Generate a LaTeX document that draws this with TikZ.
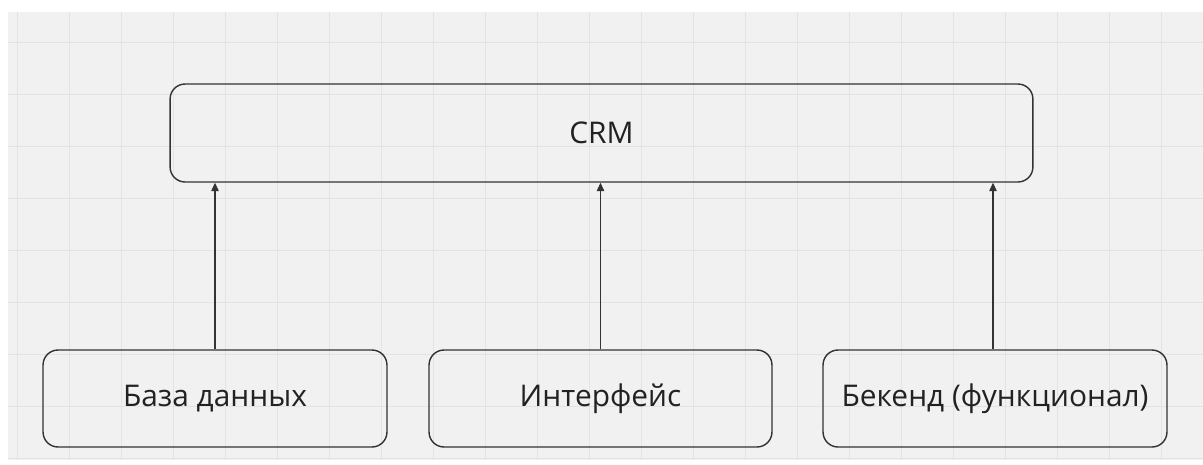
\documentclass[tikz,border=0pt]{standalone}
\usepackage{fontspec}
\setmainfont{Open Sans}
\usetikzlibrary{arrows.meta}

\definecolor{boardgray}{HTML}{F1F1F1}
\definecolor{gridgray}{HTML}{E3E3E3}
\definecolor{edgegray}{HTML}{333333}
\definecolor{textgray}{HTML}{222222}

\tikzset{
  block/.style={draw=edgegray, line width=0.8pt, rounded corners=0.3cm,
    minimum height=1.94cm, text=textgray,
    font=\fontsize{17}{20}\selectfont},
  link/.style={draw=edgegray, line width=0.7pt, -{Triangle[length=0.17cm,width=0.15cm]}}
}

\begin{document}
\begin{tikzpicture}[x=0.02cm,y=-0.02cm]
\fill[white] (0,0) rectangle (1203,464);
\useasboundingbox (0,0) rectangle (1203,464);
\fill[boardgray] (8,12) rectangle (1203,460);

% grid
\begin{scope}
\clip (8,12) rectangle (1203,460);
\foreach \gx in {17,69,...,1200} \draw[gridgray, line width=0.5pt] (\gx,12) -- (\gx,460);
\foreach \gy in {42,94,...,460} \draw[gridgray, line width=0.5pt] (8,\gy) -- (1203,\gy);
\end{scope}

\node[block, minimum width=17.26cm, minimum height=1.96cm] (crm) at (601.5,133) {CRM};

\node[block, minimum width=6.88cm] (db) at (215,398.5) {База данных};
\node[block, minimum width=6.86cm] (ui) at (600.5,398.5) {Интерфейс};
\node[block, minimum width=6.88cm] (be) at (995,398.5) {Бекенд (функционал)};

\draw[link] (db.north) -- (db.north |- crm.south);
\draw[link] (ui.north) -- (ui.north |- crm.south);
\draw[link] ([xshift=-0.04cm]be.north) -- ([xshift=-0.04cm]be.north |- crm.south);
\end{tikzpicture}
\end{document}
